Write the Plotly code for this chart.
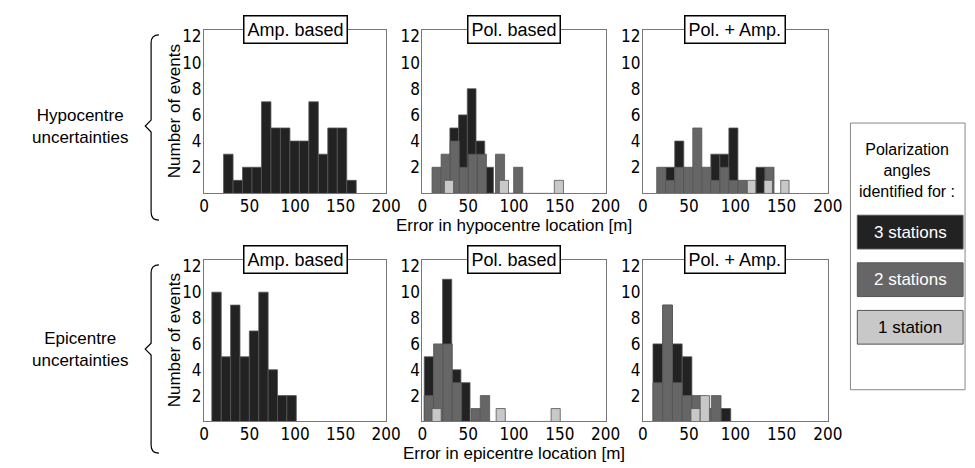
import plotly.graph_objects as go

# each series: (bin start, bin width, counts)
hypo_amp = {"3": (21.5, 10.4, [3, 1, 2, 2, 7, 5, 5, 4, 4, 7, 3, 5, 5, 1])}
hypo_pol = {
    "3": (30, 9.5, [5, 6, 8, 4, 2]),
    "2": (10.5, 9.9, [2, 3, 4, 2, 3, 3, 0, 3, 0, 2]),
    "1": (24, 10, [1, 0, 0, 0, 0, 0, 1, 0, 0, 0, 0, 0, 1]),
}
hypo_both = {
    "3": (15, 9.75, [0, 2, 4, 0, 0, 0, 3, 3, 5, 0, 0, 2]),
    "2": (15, 9.75, [2, 1, 2, 2, 5, 2, 1, 2, 1, 1, 0, 0, 2]),
    "1": (113, 9, [1, 0, 1, 0, 1]),
}
epi_amp = {"3": (8.6, 10.3, [10, 5, 9, 5, 7, 10, 4, 2, 2])}
epi_pol = {
    "3": (2, 10, [5, 0, 11, 4, 3]),
    "2": (2, 10.2, [2, 6, 6, 3, 0, 1, 2]),
    "1": (10.5, 10, [1, 0, 0, 0, 0, 0, 0, 1, 0, 0, 0, 0, 0, 1]),
}
epi_both = {
    "3": (11, 10.5, [6, 9, 6, 5, 0, 0, 0, 1]),
    "2": (11, 10.5, [3, 9, 3, 2, 2, 1, 2]),
    "1": (52, 10, [1, 2]),
}
panels = [hypo_amp, hypo_pol, hypo_both, epi_amp, epi_pol, epi_both]
panel_titles = ["Amp. based", "Pol. based", "Pol. + Amp."] * 2
colors = {"3": "#222222", "2": "#666666", "1": "#c8c8c8"}
x_ticks = [0, 50, 100, 150, 200]
y_ticks = [2, 4, 6, 8, 10, 12]

W, H = 975, 468
cols_px = [(195, 381), (418, 605), (643, 832)]
rows_px = [(18, 183), (250, 413)]

fig = go.Figure()
font = dict(family="DejaVu Sans Condensed, DejaVu Sans", size=17, color="black")


def ann(x, y, text, **kw):
    fig.add_annotation(x=x / W, y=1 - y / H, xref="paper", yref="paper", text=text,
                       showarrow=False, xanchor="center", yanchor="middle", **kw)


for i, data in enumerate(panels):
    r, c = divmod(i, 3)
    n = i + 1
    xa, ya = f"x{n if n > 1 else ''}", f"y{n if n > 1 else ''}"
    for key in ["3", "2", "1"]:
        if key not in data:
            continue
        start, w, counts = data[key]
        xs = [start + w * (k + 0.5) for k in range(len(counts))]
        fig.add_trace(go.Bar(x=xs, y=counts, width=w, marker_color=colors[key],
                             marker_line=dict(color="#555", width=0.8),
                             xaxis=xa, yaxis=ya, showlegend=False))
    x0, x1 = cols_px[c]
    y0, y1 = rows_px[r]
    fig.layout[f"xaxis{n if n > 1 else ''}"] = dict(
        domain=[x0 / W, x1 / W], range=[0, 200], tickvals=x_ticks, anchor=ya,
        showgrid=False, zeroline=False, showline=True, mirror=True,
        linecolor="#777", tickfont=font, ticks="", ticklabelstandoff=-3)
    fig.layout[f"yaxis{n if n > 1 else ''}"] = dict(
        domain=[1 - y1 / H, 1 - y0 / H], range=[0, 12.5], tickvals=y_ticks, anchor=xa,
        showgrid=False, zeroline=False, showline=True, mirror=True,
        linecolor="#777", tickfont=font, ticks="", ticklabelstandoff=-2)
    ann((x0 + x1) / 2, y0, panel_titles[i], bgcolor="white", bordercolor="black",
        borderwidth=1.5, borderpad=3,
        font=dict(family="Liberation Sans", size=18, color="black"))

lab = dict(family="Liberation Sans", size=17, color="black")
for r, ttl in enumerate(["Error in hypocentre location [m]", "Error in epicentre location [m]"]):
    ann(512, rows_px[r][1] + 32, ttl, font=lab)
    ann(165, sum(rows_px[r]) / 2, "Number of events", textangle=-90, font=lab)

for r, txt in enumerate(["Hypocentre<br>uncertainties", "Epicentre<br>uncertainties"]):
    yc = [115, 340][r]
    ann(68, yc, txt, font=lab)
    top, bot = [23, 255][r], [210, 445][r]
    fig.add_shape(type="path", xref="paper", yref="paper",
                  path=(f"M {149/W} {1-top/H} Q {141/W} {1-top/H} {141/W} {1-(top+8)/H} "
                        f"L {141/W} {1-(yc-6)/H} L {135/W} {1-yc/H} L {141/W} {1-(yc+6)/H} "
                        f"L {141/W} {1-(bot-8)/H} Q {141/W} {1-bot/H} {149/W} {1-bot/H}"),
                  line=dict(color="black", width=1.2))

# legend box
fig.add_shape(type="rect", xref="paper", yref="paper", x0=855 / W, x1=972 / W,
              y0=1 - 381 / H, y1=1 - 112 / H, line=dict(color="#888", width=1))
ann(913, 160, "Polarization<br>angles<br>identified for :",
    font=dict(family="Liberation Sans", size=16, color="black"))
for k, (key, txt) in enumerate([("3", "3 stations"), ("2", "2 stations"), ("1", "1 station")]):
    yc = 222 + 48 * k
    fig.add_shape(type="rect", xref="paper", yref="paper", x0=862 / W, x1=970 / W,
                  y0=1 - (yc + 17) / H, y1=1 - (yc - 17) / H, fillcolor=colors[key],
                  line=dict(color="#555", width=1))
    ann(916, yc, txt, font=dict(family="Liberation Sans", size=17,
                                color="white" if key != "1" else "black"))

fig.update_layout(width=W, height=H, barmode="overlay", plot_bgcolor="white",
                  paper_bgcolor="white", margin=dict(l=0, r=0, t=0, b=0))
fig.write_html("out.html")
